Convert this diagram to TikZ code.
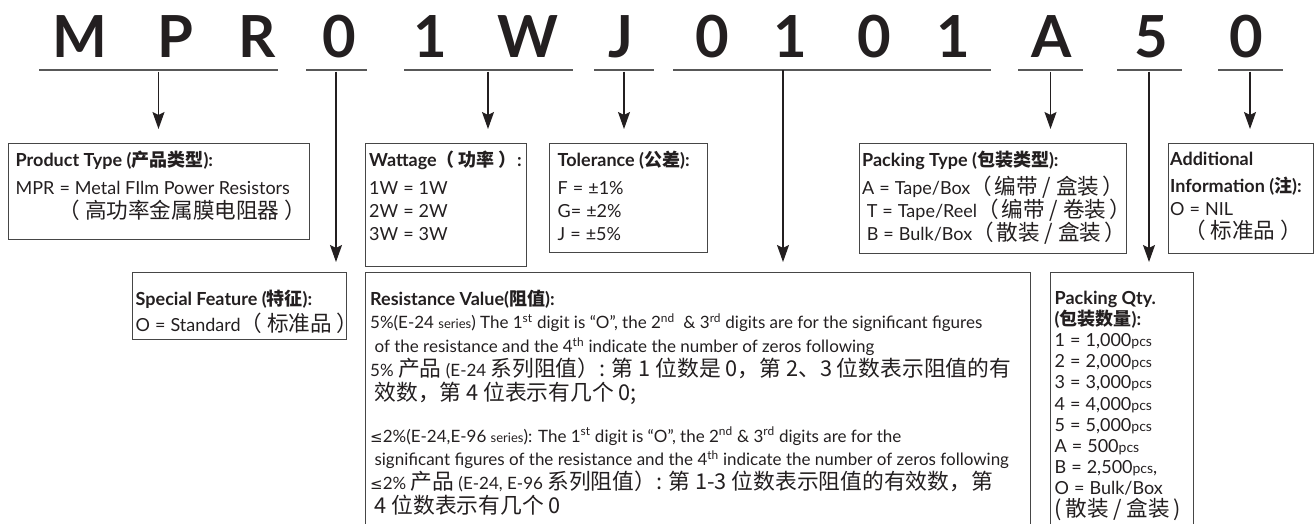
\documentclass[tikz,border=0pt]{standalone}
\usepackage{fontspec}
\setmainfont{Lato}
\newfontfamily\cjk{Noto Sans CJK SC}
\newfontfamily\cjkbody{Noto Sans CJK SC}[Scale=1.2]
\newfontfamily\cjkres{Noto Sans CJK SC}[Scale=1.28]
\newfontfamily\symfont{DejaVu Sans}
\usetikzlibrary{arrows.meta, positioning}
\definecolor{codeblack}{RGB}{35, 31, 32}
\definecolor{boxgray}{RGB}{70, 70, 70}
\definecolor{rulegray}{RGB}{88, 88, 88}
\newcommand{\zh}[1]{{\cjk #1}}
\newcommand{\zhb}[1]{{\cjkbody #1}}
\newcommand{\zhr}[1]{{\cjkres #1}}
\newcommand{\bt}[1]{{\fontsize{18}{18}\selectfont\bfseries #1}}
\newcommand{\eq}{\hspace{5pt}=\hspace{5pt}}
\newcommand{\lesseq}{{\symfont\fontsize{15}{15}\selectfont ≤}}
\newcommand{\sups}[1]{\textsuperscript{#1}}
\newcommand{\pcs}{{\fontsize{14}{14}\selectfont pcs}}
\newcommand{\ser}{{\fontsize{13}{13}\selectfont series}}

\begin{document}
\begin{tikzpicture}[x=1pt, y=-1pt, >={Stealth[length=17pt, width=12pt, inset=3pt]},
  every node/.style={text=codeblack},
  codechar/.style={font=\fontsize{58}{58}\selectfont\bfseries, anchor=base, inner sep=0pt},
  coderule/.style={fill=rulegray, inner sep=0pt, minimum height=2.6pt},
  infobox/.style={draw=boxgray, line width=1.2pt, inner sep=0pt, anchor=north west},
  infotext/.style={anchor=north west, inner sep=0pt, align=left, font=\fontsize{18}{23}\selectfont},
  pointer/.style={->, line width=1.3pt, draw=codeblack}]

\useasboundingbox (0,0) rectangle (1314,523);

% Part number characters
\foreach \ch/\xx [count=\i] in {M/80, P/175, R/257, 0/339, 1/430, W/528, J/621,
                                0/712, 1/790, 0/874, 1/953, A/1052, 5/1151, 0/1246}
  \node[codechar] (char\i) at (\xx,57) {\ch};

% Underlines of the code groups
\node[coderule, minimum width=239pt] (ruleType) at (158.5,70) {};
\node[coderule, minimum width=61pt] (ruleFeat) at (336,70) {};
\node[coderule, minimum width=169pt] (ruleWatt) at (488,70) {};
\node[coderule, minimum width=60pt] (ruleTol) at (624,70) {};
\node[coderule, minimum width=318pt] (ruleRes) at (832,70) {};
\node[coderule, minimum width=65pt] (rulePack) at (1050.5,70) {};
\node[coderule, minimum width=65pt] (ruleQty) at (1149,70) {};
\node[coderule, minimum width=65pt] (ruleAdd) at (1250,70) {};
\coordinate (resDrop) at (783,70);

% Upper row of boxes
\node[infobox, minimum width=301pt, minimum height=96pt] (typeBox) at (8,143) {};
\node[infobox, minimum width=161pt, minimum height=123pt] (wattBox) at (365,143) {};
\node[infobox, minimum width=158pt, minimum height=109pt] (tolBox) at (549,143) {};
\node[infobox, minimum width=267pt, minimum height=110pt] (packBox) at (859,143) {};
\node[infobox, minimum width=145pt, minimum height=110pt] (addBox) at (1168,143) {};

% Lower row of boxes (open below the page edge)
\node[infobox, minimum width=214pt, minimum height=67pt] (featBox) at (132,272) {};
\node[infobox, minimum width=665pt, minimum height=300pt] (resBox) at (365,272) {};
\node[infobox, minimum width=143pt, minimum height=300pt] (qtyBox) at (1050,272) {};

% Box texts
\node[infotext] (typeText) at (15.5,150.5) {%
  \bt{Product Type (\zh{产品类型}):}\\[5pt]
  MPR\eq Metal FIlm Power Resistors\\[1pt]
  \hspace*{43pt}\zhb{（ 高功率金属膜电阻器 ）}};

\node[infotext] (wattText) at (369,150.5) {%
  \bt{Wattage\zh{（ 功率 ）}:}\\[5pt]
  1W\eq 1W\\ 2W\eq 2W\\ 3W\eq 3W};

\node[infotext] (tolText) at (557.5,150.5) {%
  \bt{Tolerance (\zh{公差}):}\\[5pt]
  F\eq ±1\%\\ G=\hspace{5pt}±2\%\\ J\eq ±5\%};

\node[infotext] (packText) at (862,150.5) {%
  \bt{Packing Type (\zh{包装类型}):}\\[5pt]
  A\eq Tape/Box\zhb{（\hspace{3pt}编带 / 盒装\hspace{3pt}）}\\
  \ T\eq Tape/Reel\zhb{（\hspace{3pt}编带 / 卷装\hspace{3pt}）}\\
  \ B\eq Bulk/Box\zhb{（\hspace{3pt}散装 / 盒装\hspace{3pt}）}};

\node[infotext] (addText) at (1170,151.5) {%
  \bt{Additional}\\[4pt]
  \bt{Information (\zh{注}):}\\
  O\eq NIL\\
  \hspace*{14pt}\zhb{（ 标准品 ）}};

\node[infotext] (featText) at (135.5,289.5) {%
  \bt{Special Feature (\zh{特征}):}\\[3pt]
  O\eq Standard\zhb{（ 标准品 ）}};

\node[infotext, font=\fontsize{17}{23.8}\selectfont] (resText) at (370,289.5) {%
  \bt{Resistance Value(\zh{阻值}):}\\
  5\%(E-24 \ser) The 1\sups{st} digit is “O”, the 2\sups{nd}\ \ \& 3\sups{rd} digits are for the significant figures\\
  \ of the resistance and the 4\sups{th} indicate the number of zeros following\\
  5\% \zhr{产品} (E-24 \zhr{系列阻值）: 第 1 位数是 0，第 2、3 位数表示阻值的有}\\
  \ \zhr{效数，第 4 位表示有几个 0;}\\[18pt]
  \lesseq2\%(E-24,E-96 \ser): The 1\sups{st} digit is “O”, the 2\sups{nd} \& 3\sups{rd} digits are for the\\
  \ significant figures of the resistance and the 4\sups{th} indicate the number of zeros following\\
  \lesseq2\% \zhr{产品} (E-24, E-96 \zhr{系列阻值）: 第 1-3 位数表示阻值的有效数，第}\\
  \ \zhr{4 位数表示有几个 0}};

\node[infotext, font=\fontsize{18}{21.2}\selectfont] (qtyText) at (1054.5,290.5) {%
  \bt{Packing Qty.}\\
  \bt{(\zh{包装数量}):}\\
  1\eq 1,000\pcs\\ 2\eq 2,000\pcs\\ 3\eq 3,000\pcs\\ 4\eq 4,000\pcs\\ 5\eq 5,000\pcs\\
  A\eq 500\pcs\\ B\eq 2,500\pcs,\\ O\eq Bulk/Box\\
  \zhb{(\,散装 / 盒装\,)}};

% Connections: code groups to boxes
\foreach \r/\b in {ruleType/typeBox, ruleWatt/wattBox, ruleTol/tolBox, rulePack/packBox, ruleAdd/addBox}
  \draw[pointer, shorten >=14pt] (\r.south) -- (\r.south |- \b.north);
\foreach \r/\b in {ruleFeat/featBox, ruleQty/qtyBox}
  \draw[pointer, shorten >=10pt] (\r.south) -- (\r.south |- \b.north);
\draw[pointer, shorten >=10pt] (resDrop) -- (resDrop |- resBox.north);

\end{tikzpicture}
\end{document}
